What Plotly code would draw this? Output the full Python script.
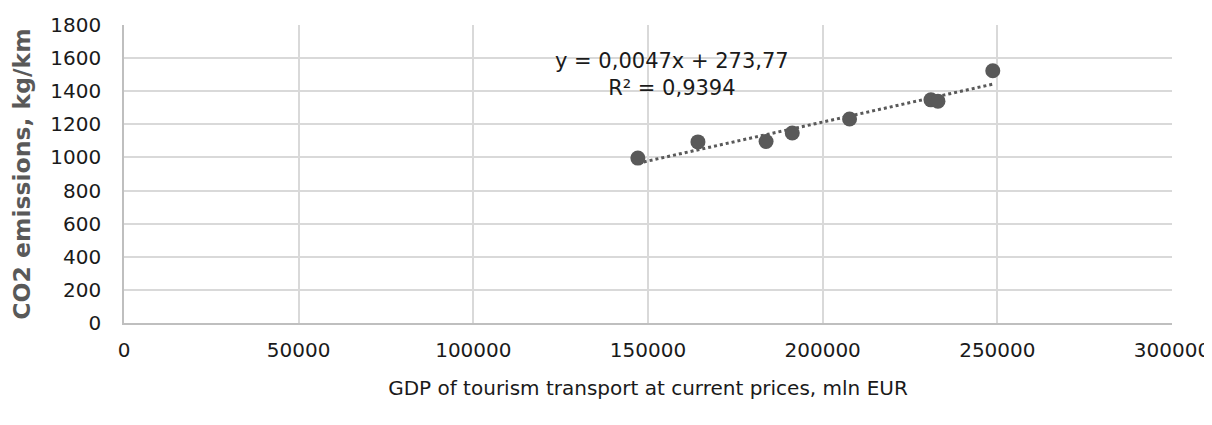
import numpy as np
import plotly.graph_objects as go

gdp = [147100, 164300, 183800, 191300, 207700, 231000, 233000, 248700]
co2 = [996, 1094, 1096, 1148, 1232, 1348, 1340, 1524]
x_ticks = [0, 50000, 100000, 150000, 200000, 250000, 300000]
y_ticks = [0, 200, 400, 600, 800, 1000, 1200, 1400, 1600, 1800]

slope, intercept = 0.0047, 273.77
tx = [min(gdp), max(gdp)]
ty = [slope * v + intercept for v in tx]

FONT = "DejaVu Sans, Verdana, sans-serif"

fig = go.Figure()
fig.add_trace(go.Scatter(x=tx, y=ty, mode="lines",
                         line=dict(color="#595959", width=3, dash="dot"),
                         hoverinfo="skip", showlegend=False))
fig.add_trace(go.Scatter(x=gdp, y=co2, mode="markers",
                         marker=dict(color="#595959", size=15),
                         showlegend=False))

fig.add_annotation(x=156800, y=1500, xref="x", yref="y",
                   text="y = 0,0047x + 273,77<br>R² = 0,9394",
                   showarrow=False, align="center",
                   font=dict(family=FONT, size=21, color="#1a1a1a"))

fig.update_layout(
    width=1212, height=425,
    margin=dict(l=116, r=48, t=17, b=110),
    paper_bgcolor="white", plot_bgcolor="white",
    font=dict(family=FONT, size=20, color="#1a1a1a"),
    xaxis=dict(range=[0, 300000], tickvals=x_ticks,
               ticktext=[str(v) for v in x_ticks], automargin=False,
               showgrid=True, gridcolor="#d9d9d9", gridwidth=1.5,
               showline=True, linecolor="#bfbfbf", linewidth=1.5,
               zeroline=False, ticks="", ticklabelstandoff=8,
               tickfont=dict(family=FONT, size=20, color="#1a1a1a"),
               title=dict(text="GDP of tourism transport at current prices, mln EUR",
                          font=dict(family=FONT, size=20, color="#1a1a1a"),
                          standoff=20)),
    yaxis=dict(range=[0, 1800], tickvals=y_ticks, automargin=False,
               showgrid=True, gridcolor="#d9d9d9", gridwidth=1.5,
               showline=True, linecolor="#bfbfbf", linewidth=1.5,
               zeroline=False, ticks="", ticklabelstandoff=17,
               tickfont=dict(family=FONT, size=20, color="#1a1a1a"),
               title=dict(text="<b>CO2 emissions, kg/km</b>",
                          font=dict(family=FONT, size=23.5, color="#595959"),
                          standoff=14)),
)

fig.write_html("out.html")
